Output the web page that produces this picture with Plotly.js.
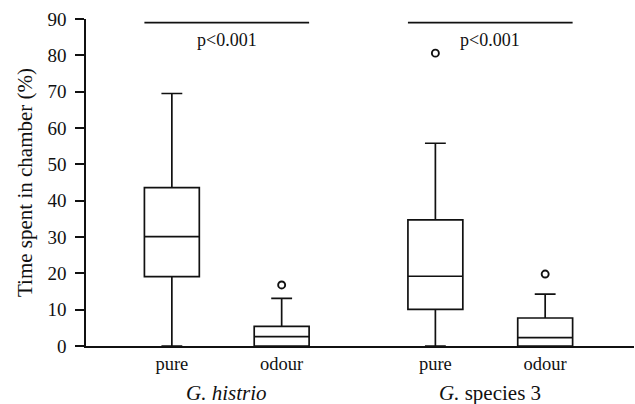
<!DOCTYPE html>
<html><head><meta charset="utf-8">
<script src="https://cdn.plot.ly/plotly-3.0.1.min.js"></script>
<style>html,body{margin:0;padding:0;background:#fff}#c{width:635px;height:404px}</style>
</head><body><div id="c"></div>
<script>
// Data
const positions = [1, 2, 3.4, 4.4];
const categories = ['pure', 'odour', 'pure', 'odour'];
const lowerWhisker = [0, 0, 0, 0];
const q1 = [19.1, 0, 10.1, 0];
const median = [30.1, 2.6, 19.2, 2.3];
const q3 = [43.6, 5.4, 34.7, 7.7];
const upperWhisker = [69.5, 13.1, 55.8, 14.3];
const outlierX = [2, 3.4, 4.4];
const outlierY = [16.8, 80.6, 19.8];
const groups = ['<i>G. histrio</i>', '<i>G.</i> species 3'];
const groupCenters = [1.5, 3.9];
const pText = ['p<0.001', 'p<0.001'];
const sigLevel = 89;
const pLevel = 84.2;
const yTicks = [0, 10, 20, 30, 40, 50, 60, 70, 80, 90];

const col = '#111111';
const fam = '"Liberation Serif", "Times New Roman", serif';
const font = {family: fam, size: 18, color: col};

const traces = [{
  type: 'box',
  x: positions,
  q1: q1, median: median, q3: q3,
  lowerfence: lowerWhisker, upperfence: upperWhisker,
  width: 0.5,
  whiskerwidth: 0.38,
  fillcolor: 'rgba(0,0,0,0)',
  line: {color: col, width: 1.7},
  boxpoints: false,
  hoverinfo: 'skip'
}, {
  type: 'scatter', mode: 'markers',
  x: outlierX, y: outlierY,
  marker: {symbol: 'circle-open', size: 7, color: col, line: {width: 1.9, color: col}},
  hoverinfo: 'skip'
}];

const shapes = [];
const annotations = [];
for (let g = 0; g < 2; g++) {
  const a = positions[2 * g], b = positions[2 * g + 1];
  shapes.push({type: 'line', xref: 'x', yref: 'y', x0: a - 0.25, x1: b + 0.25, y0: sigLevel, y1: sigLevel,
    line: {color: col, width: 1.7}});
  annotations.push({xref: 'x', yref: 'y', x: (a + b) / 2, y: pLevel, text: pText[g].replace('<', '&lt;'),
    showarrow: false, font: {family: fam, size: 18, color: col}});
  annotations.push({xref: 'x', yref: 'paper', x: groupCenters[g], y: -0.1, yanchor: 'top',
    text: groups[g], showarrow: false, font: {family: fam, size: 21, color: col}});
}

const layout = {
  width: 635, height: 404,
  margin: {l: 86, r: 1, t: 19, b: 58},
  paper_bgcolor: '#fff', plot_bgcolor: '#fff',
  showlegend: false,
  font: font,
  xaxis: {
    range: [0.218, 5.209], showgrid: false, zeroline: false,
    showline: true, linecolor: col, linewidth: 1.7,
    tickvals: positions, ticktext: categories, ticks: '',
    ticklabelstandoff: 0,
    tickfont: {family: fam, size: 18.5, color: col}, fixedrange: true
  },
  yaxis: {
    range: [0, 90], showgrid: false, zeroline: false,
    showline: true, linecolor: col, linewidth: 1.7,
    tickvals: yTicks,
    ticks: 'outside', ticklen: 9, tickwidth: 1.7, tickcolor: col,
    ticklabelstandoff: 5,
    tickfont: {family: fam, size: 19, color: col},
    title: {text: 'Time spent in chamber (%)', font: {family: fam, size: 21, color: col}, standoff: 9},
    fixedrange: true
  },
  shapes: shapes,
  annotations: annotations
};

Plotly.newPlot('c', traces, layout, {displayModeBar: false, staticPlot: true});
</script></body></html>
